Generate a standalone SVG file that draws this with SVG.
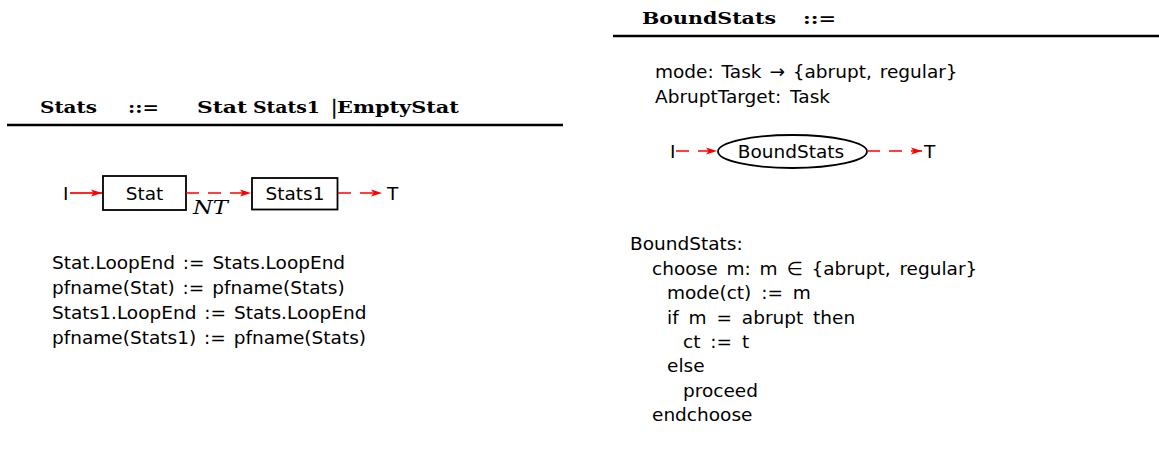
<svg xmlns="http://www.w3.org/2000/svg" width="1159" height="449" viewBox="0 0 1159 449">
  <defs>
    <style>
      .rule { font-family: "DejaVu Serif", "Liberation Serif", serif; font-weight: bold; font-size: 17.5px; fill: #000; }
      .bar { font-family: "DejaVu Sans", sans-serif; font-size: 19px; fill: #000; stroke: #000; stroke-width: 0.3; }
      .txt { font-family: "DejaVu Sans", "Liberation Sans", sans-serif; font-size: 18.5px; fill: #000; }
      .sp2 { word-spacing: 2px; }
      .sp3 { word-spacing: 3px; }
      .sp4 { word-spacing: 4px; }
      .mathit { font-family: "DejaVu Serif", "Liberation Serif", serif; font-style: italic; font-size: 18px; fill: #000; }
      .hr { stroke: #000; stroke-width: 2.5; }
      .box { fill: #fff; stroke: #000; stroke-width: 1.8; }
      .flow { stroke: #ff0000; stroke-width: 1.7; fill: none; }
      .dash { stroke-dasharray: 13 9; }
    </style>
    <marker id="arrow" markerUnits="userSpaceOnUse" markerWidth="12" markerHeight="8" refX="11" refY="4" orient="auto">
      <path d="M0,0.6 L11,4 L0,7.4 L2.5,4 z" fill="#ff0000"/>
    </marker>
  </defs>

  <rect width="1159" height="449" fill="#fff"/>

  <!-- Left production: Stats -->
  <g id="rule-stats">
    <text class="rule" x="40" y="113" textLength="57" lengthAdjust="spacingAndGlyphs">Stats</text>
    <text class="rule" x="128" y="113" textLength="31" lengthAdjust="spacingAndGlyphs">::=</text>
    <text class="rule" x="197" y="113" textLength="50" lengthAdjust="spacingAndGlyphs">Stat</text>
    <text class="rule" x="253" y="113" textLength="67" lengthAdjust="spacingAndGlyphs">Stats1</text>
    <text class="bar" x="331" y="114">|</text>
    <text class="rule" x="337" y="113" textLength="122" lengthAdjust="spacingAndGlyphs">EmptyStat</text>
    <line class="hr" x1="7" y1="125" x2="563" y2="125"/>
  </g>

  <g id="term-I-left"><text class="txt" x="63" y="200">I</text></g>
  <g id="node-stat">
    <rect class="box" x="103" y="176" width="83" height="34"/>
    <text class="txt" x="144.5" y="200" text-anchor="middle">Stat</text>
  </g>
  <g id="node-stats1">
    <rect class="box" x="252" y="178" width="85.5" height="31.5"/>
    <text class="txt" x="295" y="200" text-anchor="middle">Stats1</text>
  </g>
  <g id="term-T-left"><text class="txt" x="387" y="200">T</text></g>

  <g id="attrs-stats">
    <text class="txt sp2" x="52" y="269">Stat.LoopEnd := Stats.LoopEnd</text>
    <text class="txt sp2" x="52" y="294">pfname(Stat) := pfname(Stats)</text>
    <text class="txt sp2" x="52" y="319">Stats1.LoopEnd := Stats.LoopEnd</text>
    <text class="txt sp2" x="52" y="344">pfname(Stats1) := pfname(Stats)</text>
  </g>

  <!-- Right production: BoundStats -->
  <g id="rule-boundstats">
    <text class="rule" x="642" y="24" textLength="134" lengthAdjust="spacingAndGlyphs">BoundStats</text>
    <text class="rule" x="803" y="24" textLength="33" lengthAdjust="spacingAndGlyphs">::=</text>
    <line class="hr" x1="613" y1="36" x2="1159" y2="36"/>
  </g>

  <g id="decl-boundstats">
    <text class="txt sp2" x="655" y="78">mode: Task → {abrupt, regular}</text>
    <text class="txt sp3" x="655" y="103">AbruptTarget: Task</text>
  </g>

  <g id="term-I-right"><text class="txt" x="670" y="158">I</text></g>
  <g id="node-boundstats">
    <ellipse class="box" cx="792.5" cy="151.5" rx="74.5" ry="16.5"/>
    <text class="txt" x="791" y="158" text-anchor="middle">BoundStats</text>
  </g>
  <g id="term-T-right"><text class="txt" x="924" y="158">T</text></g>

  <g id="code-boundstats">
    <text class="txt" x="630" y="250">BoundStats:</text>
    <text class="txt sp3" x="652" y="274.5">choose m: m ∈ {abrupt, regular}</text>
    <text class="txt sp4" x="667" y="299">mode(ct) := m</text>
    <text class="txt sp4" x="667" y="323.5">if m = abrupt then</text>
    <text class="txt sp4" x="683" y="348">ct := t</text>
    <text class="txt" x="667" y="372">else</text>
    <text class="txt" x="683" y="396.5">proceed</text>
    <text class="txt" x="652" y="421">endchoose</text>
  </g>

  <!-- Control-flow connectors -->
  <g id="connectors">
    <line class="flow" x1="70" y1="193" x2="102" y2="193" marker-end="url(#arrow)"/>
    <line class="flow dash" x1="186" y1="193" x2="251" y2="193" marker-end="url(#arrow)"/>
    <line class="flow dash" x1="338" y1="193" x2="382" y2="193" marker-end="url(#arrow)"/>
    <line class="flow dash" x1="676" y1="151" x2="717" y2="151" marker-end="url(#arrow)"/>
    <line class="flow dash" x1="867" y1="151" x2="922" y2="151" marker-end="url(#arrow)"/>
  </g>
  <g id="connector-labels">
    <text class="mathit" x="193" y="214" textLength="35" lengthAdjust="spacingAndGlyphs">NT</text>
  </g>
</svg>
